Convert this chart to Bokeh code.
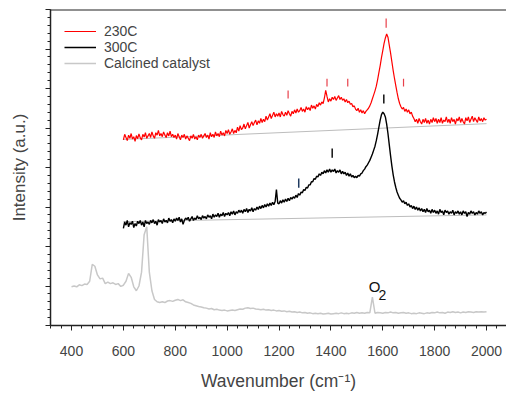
import numpy as np
from bokeh.plotting import figure
from bokeh.models import FixedTicker, Span, Label, Legend, LegendItem, Range1d
from bokeh.embed import file_html
from bokeh.resources import INLINE

# ---------------- data ----------------
wn_treated = np.arange(600, 2001, 5)
i_230 = [
    4.70, 4.84, 4.76, 4.68, 4.82, 4.74, 4.86, 4.72, 4.78, 4.66,
    4.81, 4.73, 4.85, 4.75, 4.70, 4.84, 4.77, 4.88, 4.74, 4.80,
    4.86, 4.76, 4.90, 4.80, 4.74, 4.88, 4.82, 4.94, 4.80, 4.86,
    4.78, 4.90, 4.82, 4.76, 4.88, 4.80, 4.92, 4.78, 4.84, 4.76,
    4.82, 4.72, 4.86, 4.78, 4.70, 4.82, 4.76, 4.84, 4.72, 4.80,
    4.74, 4.68, 4.80, 4.74, 4.84, 4.72, 4.78, 4.70, 4.82, 4.76,
    4.84, 4.74, 4.80, 4.86, 4.76, 4.82, 4.72, 4.88, 4.78, 4.84,
    4.76, 4.90, 4.80, 4.86, 4.78, 4.92, 4.82, 4.88, 4.80, 4.94,
    4.86, 4.96, 4.84, 4.90, 4.98, 4.86, 4.94, 4.88, 5.02, 4.92,
    5.06, 4.96, 5.00, 5.10, 4.98, 5.06, 5.14, 5.00, 5.08, 5.16,
    5.06, 5.14, 5.20, 5.08, 5.18, 5.12, 5.24, 5.14, 5.22, 5.16,
    5.30, 5.20, 5.28, 5.36, 5.24, 5.32, 5.40, 5.28, 5.36, 5.30,
    5.38, 5.28, 5.42, 5.34, 5.30, 5.40, 5.32, 5.44, 5.36, 5.30,
    5.42, 5.36, 5.46, 5.38, 5.48, 5.40, 5.44, 5.52, 5.42, 5.48,
    5.40, 5.54, 5.46, 5.52, 5.44, 5.58, 5.50, 5.56, 5.48, 5.60,
    5.54, 5.64, 5.58, 5.66, 5.62, 5.76, 5.95, 5.80, 5.66, 5.74,
    5.68, 5.78, 5.72, 5.80, 5.70, 5.76, 5.82, 5.72, 5.78, 5.70,
    5.74, 5.66, 5.72, 5.64, 5.68, 5.60, 5.62, 5.54, 5.56, 5.48,
    5.44, 5.50, 5.40, 5.46, 5.38, 5.44, 5.36, 5.42, 5.46, 5.50,
    5.56, 5.64, 5.74, 5.84, 5.94, 6.06, 6.22, 6.40, 6.58, 6.78,
    6.96, 7.14, 7.28, 7.38, 7.30, 7.10, 6.90, 6.68, 6.46, 6.26,
    6.08, 5.90, 5.74, 5.62, 5.54, 5.48, 5.52, 5.42, 5.48, 5.40,
    5.46, 5.36, 5.40, 5.30, 5.24, 5.16, 5.22, 5.12, 5.24, 5.16,
    5.10, 5.22, 5.14, 5.24, 5.12, 5.20, 5.10, 5.22, 5.14, 5.26,
    5.16, 5.24, 5.12, 5.22, 5.14, 5.26, 5.12, 5.20, 5.16, 5.28,
    5.14, 5.22, 5.12, 5.26, 5.16, 5.22, 5.10, 5.24, 5.18, 5.28,
    5.14, 5.24, 5.16, 5.10, 5.26, 5.18, 5.28, 5.14, 5.22, 5.30,
    5.16, 5.26, 5.20, 5.14, 5.28, 5.18, 5.24, 5.16, 5.26, 5.20,
    5.22,
]
i_300 = [
    2.46, 2.62, 2.54, 2.66, 2.50, 2.60, 2.56, 2.64, 2.48, 2.58,
    2.52, 2.64, 2.58, 2.66, 2.54, 2.62, 2.50, 2.66, 2.58, 2.62,
    2.56, 2.66, 2.60, 2.68, 2.58, 2.64, 2.54, 2.68, 2.62, 2.66,
    2.58, 2.70, 2.62, 2.66, 2.60, 2.72, 2.64, 2.68, 2.60, 2.70,
    2.64, 2.72, 2.66, 2.74, 2.62, 2.70, 2.56, 2.66, 2.72, 2.68,
    2.74, 2.64, 2.70, 2.76, 2.66, 2.72, 2.68, 2.78, 2.70, 2.74,
    2.68, 2.78, 2.72, 2.76, 2.70, 2.80, 2.74, 2.78, 2.70, 2.82,
    2.74, 2.80, 2.76, 2.84, 2.74, 2.82, 2.78, 2.86, 2.76, 2.84,
    2.80, 2.86, 2.78, 2.88, 2.82, 2.90, 2.80, 2.88, 2.84, 2.92,
    2.86, 2.92, 2.84, 2.94, 2.88, 2.96, 2.86, 2.94, 2.90, 2.98,
    2.88, 2.96, 2.92, 3.00, 2.94, 3.02, 2.96, 3.04, 2.98, 3.06,
    3.00, 3.08, 3.02, 3.10, 3.04, 3.12, 3.06, 3.14, 3.44, 3.10,
    3.08, 3.16, 3.10, 3.18, 3.12, 3.20, 3.14, 3.22, 3.16, 3.24,
    3.20, 3.26, 3.22, 3.30, 3.24, 3.34, 3.30, 3.38, 3.36, 3.44,
    3.42, 3.50, 3.48, 3.56, 3.56, 3.64, 3.64, 3.72, 3.70, 3.78,
    3.76, 3.84, 3.80, 3.88, 3.84, 3.92, 3.86, 3.94, 3.88, 3.96,
    3.88, 3.94, 3.90, 3.96, 3.86, 3.92, 3.88, 3.94, 3.84, 3.90,
    3.84, 3.88, 3.80, 3.86, 3.78, 3.84, 3.76, 3.80, 3.74, 3.78,
    3.74, 3.80, 3.78, 3.84, 3.86, 3.92, 3.96, 4.02, 4.06, 4.12,
    4.18, 4.26, 4.34, 4.44, 4.54, 4.68, 4.84, 5.02, 5.20, 5.34,
    5.40, 5.36, 5.28, 5.10, 4.86, 4.58, 4.30, 4.04, 3.82, 3.64,
    3.50, 3.38, 3.30, 3.22, 3.18, 3.12, 3.16, 3.08, 3.12, 3.04,
    3.08, 3.00, 3.04, 2.96, 3.02, 2.94, 3.00, 2.92, 2.98, 2.90,
    2.96, 2.88, 2.94, 2.86, 2.96, 2.88, 2.92, 2.84, 2.94, 2.86,
    2.92, 2.84, 2.90, 2.82, 2.94, 2.86, 2.90, 2.80, 2.92, 2.86,
    2.90, 2.82, 2.88, 2.84, 2.92, 2.80, 2.88, 2.84, 2.90, 2.82,
    2.88, 2.80, 2.90, 2.84, 2.88, 2.76, 2.86, 2.82, 2.90, 2.84,
    2.88, 2.80, 2.86, 2.82, 2.90, 2.84, 2.88, 2.80, 2.86, 2.84,
    2.87,
]
wn_calc = np.arange(400, 2001, 10)
i_calc = [
    0.98, 1.00, 0.98, 1.03, 1.01, 1.05, 1.04, 1.12, 1.55, 1.50,
    1.28, 1.18, 1.20, 1.06, 1.10, 1.06, 1.08, 1.04, 1.06, 0.99,
    1.02, 1.12, 1.32, 1.22, 0.98, 0.88, 1.00, 1.35, 2.30, 2.50,
    1.35, 0.88, 0.66, 0.60, 0.58, 0.60, 0.58, 0.62, 0.63, 0.61,
    0.64, 0.66, 0.63, 0.65, 0.60, 0.58, 0.56, 0.52, 0.50, 0.48,
    0.47, 0.45, 0.44, 0.42, 0.43, 0.40, 0.41, 0.39, 0.38, 0.39,
    0.37, 0.38, 0.39, 0.38, 0.40, 0.42, 0.41, 0.44, 0.45, 0.43,
    0.44, 0.42, 0.41, 0.40, 0.41, 0.39, 0.40, 0.38, 0.39, 0.37,
    0.38, 0.36, 0.37, 0.35, 0.36, 0.34, 0.35, 0.33, 0.34, 0.32,
    0.33, 0.31, 0.32, 0.30, 0.31, 0.30, 0.31, 0.29, 0.30, 0.31,
    0.29, 0.30, 0.31, 0.30, 0.32, 0.30, 0.31, 0.30, 0.32, 0.31,
    0.33, 0.31, 0.32, 0.31, 0.33, 0.32, 0.72, 0.31, 0.33, 0.32,
    0.31, 0.33, 0.32, 0.34, 0.32, 0.33, 0.31, 0.32, 0.33, 0.31,
    0.32, 0.30, 0.31, 0.30, 0.32, 0.31, 0.30, 0.32, 0.31, 0.33,
    0.32, 0.34, 0.32, 0.33, 0.31, 0.34, 0.33, 0.35, 0.33, 0.34,
    0.32, 0.34, 0.33, 0.35, 0.34, 0.33, 0.35, 0.34, 0.35, 0.34,
    0.35,
]
baseline_x = [600, 2000]
baseline_230 = [4.71, 5.11]
baseline_300 = [2.63, 2.80]

mark_230_x = [1235, 1385, 1465, 1613, 1680]
mark_230_lo = [5.75, 6.05, 6.05, 7.54, 6.05]
mark_230_hi = [5.95, 6.25, 6.25, 7.77, 6.25]
mark_300_x = [1405, 1604]
mark_300_lo = [4.25, 5.62]
mark_300_hi = [4.48, 5.85]
mark_blue_x = [1276]
mark_blue_lo = [3.49]
mark_blue_hi = [3.72]

x_major = [400, 600, 800, 1000, 1200, 1400, 1600, 1800, 2000]
x_minor = list(range(320, 2081, 40))
y_major = [0, 1, 2, 3, 4, 5, 6, 7, 8]
y_minor = [round(0.2 * k, 1) for k in range(0, 41)]

FONT = "Liberation Sans"
AX = "#222222"

p = figure(width=506, height=393, output_backend="svg", toolbar_location=None,
           x_range=Range1d(319, 2077), y_range=Range1d(0, 8),
           min_border_left=50, min_border_right=0, min_border_top=9,
           min_border_bottom=68)
p.outline_line_color = None
p.grid.visible = False
p.background_fill_color = "white"

# axes
xa = p.xaxis[0]
xa.ticker = FixedTicker(ticks=x_major, minor_ticks=x_minor)
xa.axis_label = "Wavenumber (cm\u207b\u00b9)"
xa.axis_label_text_font = FONT
xa.axis_label_text_font_size = "17.5px"
xa.axis_label_text_font_style = "normal"
xa.axis_label_standoff = 12
xa.major_label_text_font = FONT
xa.major_label_text_font_size = "14px"
xa.major_label_standoff = 15
xa.axis_line_color = AX
xa.axis_line_width = 1.5
xa.major_tick_line_color = AX
xa.minor_tick_line_color = AX
xa.major_tick_in = 0
xa.major_tick_out = 5
xa.minor_tick_in = 0
xa.minor_tick_out = 3

ya = p.yaxis[0]
ya.ticker = FixedTicker(ticks=y_major, minor_ticks=y_minor)
ya.axis_label = "Intensity (a.u.)"
ya.axis_label_text_font = FONT
ya.axis_label_text_font_size = "17px"
ya.axis_label_text_font_style = "normal"
ya.axis_label_standoff = 17
ya.major_label_text_color = None
ya.major_label_text_font_size = "1px"
ya.major_label_standoff = 0
ya.axis_line_color = AX
ya.axis_line_width = 1.5
ya.major_tick_line_color = AX
ya.minor_tick_line_color = AX
ya.major_tick_in = 0
ya.major_tick_out = 5
ya.minor_tick_in = 0
ya.minor_tick_out = 3

p.add_layout(Span(location=8, dimension="width", line_color=AX, line_width=2))

# baselines
p.line(baseline_x, baseline_230, line_color="#bdbdbd", line_width=1)
p.line(baseline_x, baseline_300, line_color="#bdbdbd", line_width=1)

# spectra
r_calc = p.line(wn_calc, i_calc, line_color="#c8c8c8", line_width=1.5)
r_300 = p.line(wn_treated, i_300, line_color="#000000", line_width=1.4)
r_230 = p.line(wn_treated, i_230, line_color="#ff0000", line_width=1.2)

# band marks
p.segment(x0=mark_230_x, x1=mark_230_x, y0=mark_230_lo, y1=mark_230_hi,
          line_color="#e8404a", line_width=1.2)
p.segment(x0=mark_300_x, x1=mark_300_x, y0=mark_300_lo, y1=mark_300_hi,
          line_color="#111111", line_width=1.5)
p.segment(x0=mark_blue_x, x1=mark_blue_x, y0=mark_blue_lo, y1=mark_blue_hi,
          line_color="#1f3a60", line_width=1.5)

# O2 label
p.add_layout(Label(x=1546, y=0.76, text="O", text_font=FONT, text_font_size="15px",
                   text_color="#111111"))
p.add_layout(Label(x=1584, y=0.64, text="2", text_font=FONT, text_font_size="14px",
                   text_color="#111111"))

legend = Legend(items=[LegendItem(label="230C", renderers=[r_230]),
                       LegendItem(label="300C", renderers=[r_300]),
                       LegendItem(label="Calcined catalyst", renderers=[r_calc])],
                location=(14, 254))
legend.background_fill_alpha = 0
legend.border_line_color = None
legend.margin = 0
legend.padding = 0
legend.glyph_width = 32
legend.glyph_height = 16
legend.label_height = 16
legend.label_standoff = 8
legend.spacing = 0
legend.label_text_font = FONT
legend.label_text_font_size = "14px"
p.add_layout(legend)

open("out.html", "w").write(file_html(p, INLINE))
